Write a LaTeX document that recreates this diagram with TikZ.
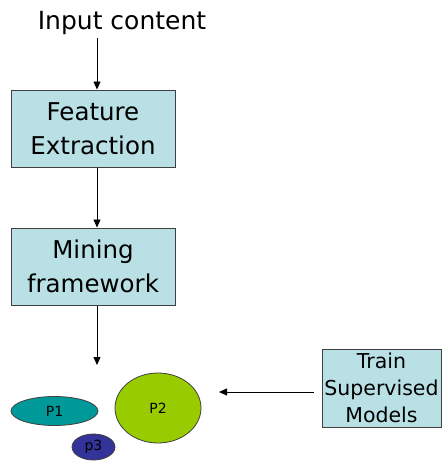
\documentclass[tikz,border=0pt]{standalone}
\usepackage{fontspec}
\setmainfont{DejaVu Sans}
\usetikzlibrary{shapes.geometric,arrows.meta}
\definecolor{boxfill}{RGB}{185,224,228}
\definecolor{boxline}{RGB}{64,64,64}
\definecolor{pone}{RGB}{0,153,153}
\definecolor{ptwo}{RGB}{153,204,0}
\definecolor{pthree}{RGB}{51,51,153}
\begin{document}
\begin{tikzpicture}[x=1pt,y=-1pt,
  stepbox/.style={draw=boxline,line width=1pt,fill=boxfill,inner sep=0pt,align=center,
    font=\fontsize{24.5}{34}\selectfont},
  blob/.style={ellipse,draw=boxline,line width=0.8pt,inner sep=0pt,font=\fontsize{14}{16}\selectfont},
  flow/.style={line width=0.8pt,-{Triangle[length=8pt,width=7pt]}}]
\useasboundingbox (0,0) rectangle (442,461);
\node[font=\fontsize{25}{30}\selectfont,anchor=base] (in) at (122,29) {Input content};
\node[stepbox,minimum width=164pt,minimum height=77pt] (fe) at (93,128.5) {Feature\\Extraction};
\node[stepbox,minimum width=164pt,minimum height=77pt] (mf) at (93,266.5) {Mining\\framework};
\node[stepbox,minimum width=119pt,minimum height=78pt,font=\fontsize{20.5}{27}\selectfont] (tr) at (381.5,388) {Train\\Supervised\\Models};
\node[blob,fill=pone,minimum width=87pt,minimum height=29pt] (p1) at (54.5,411) {P1};
\node[blob,fill=ptwo,minimum width=86pt,minimum height=70pt] (p2) at (158,408) {P2};
\node[blob,fill=pthree,minimum width=43pt,minimum height=26pt] (p3) at (93.5,447) {p3};
\coordinate (c3) at (97,365);
\coordinate (c4) at (219,392);
\draw[flow] (97,38) -- ([xshift=4pt]fe.north);
\draw[flow] ([xshift=4pt]fe.south) -- ([xshift=4pt]mf.north);
\draw[flow] ([xshift=4pt]mf.south) -- (c3);
\draw[flow] (tr.west |- c4) ++(-8,0) -- (c4);
\end{tikzpicture}
\end{document}
